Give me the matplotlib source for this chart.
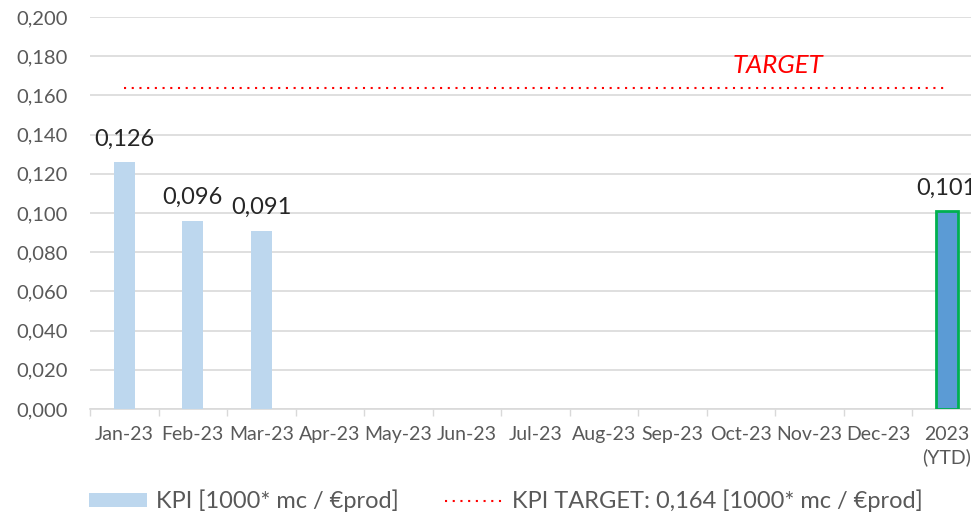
import numpy as np
import matplotlib
matplotlib.use("Agg")
import matplotlib.pyplot as plt
from matplotlib.lines import Line2D
from matplotlib.patches import Patch
from matplotlib.ticker import FuncFormatter

categories = ["Jan-23", "Feb-23", "Mar-23", "Apr-23", "May-23", "Jun-23",
              "Jul-23", "Aug-23", "Sep-23", "Oct-23", "Nov-23", "Dec-23",
              "2023\n(YTD)"]
kpi_values = [0.126, 0.096, 0.091, None, None, None, None, None, None,
              None, None, None, 0.101]
target_value = 0.164
kpi_label = "KPI [1000* mc / €prod]"
target_label = "KPI TARGET: 0,164 [1000* mc / €prod]"

plt.rcParams["font.family"] = ["Lato", "DejaVu Sans"]

grey_text = "#595959"
grid_grey = "#D9D9D9"

fig = plt.figure(figsize=(9.71, 5.14), dpi=100)
ax = fig.add_axes([90 / 971, 1 - 409 / 514, 891 / 971, 392 / 514])

x = np.arange(len(categories))
for i, v in enumerate(kpi_values):
    if v is None:
        continue
    if i == len(categories) - 1:
        ax.bar(i, v, 0.32, color="#5B9BD5", edgecolor="#00B050", linewidth=2, zorder=3)
    else:
        ax.bar(i, v, 0.31, color="#BDD7EE", zorder=3)
    ax.annotate(f"{v:.3f}".replace(".", ","), (i, v), xytext=(0, 12),
                textcoords="offset points", ha="center", va="baseline",
                fontsize=17, color="#262626")

ax.plot([x[0], x[-1]], [target_value, target_value], color="#FF0000",
        linestyle=(0, (1, 2.7)), linewidth=1.5, zorder=4)
ax.text(9.53, 0.1755, "TARGET", color="#FF0000", fontsize=18.5, style="italic",
        ha="center", va="center")

ax.set_xlim(-0.5, len(categories) - 0.5)
ax.set_ylim(0, 0.2)
ax.set_yticks(np.arange(0, 0.2001, 0.02))
ax.yaxis.set_major_formatter(FuncFormatter(lambda v, p: f"{v:.3f}".replace(".", ",")))
ax.yaxis.grid(True, color=grid_grey, linewidth=1.2, zorder=0)
ax.set_axisbelow(True)

ax.set_xticks(np.arange(-0.5, len(categories), 1))
ax.set_xticklabels([])
ax.set_xticks(x, minor=True)
ax.set_xticklabels(categories, minor=True, linespacing=1.35)
ax.tick_params(axis="x", which="major", length=5, width=1, color=grid_grey)
ax.tick_params(axis="x", which="minor", length=0, pad=12, labelsize=14, labelcolor=grey_text)
ax.tick_params(axis="y", length=0, pad=16, labelsize=14.5, labelcolor=grey_text)

for side in ["top", "right", "left"]:
    ax.spines[side].set_visible(False)
ax.spines["bottom"].set_color(grid_grey)
ax.spines["bottom"].set_linewidth(1.2)

handles = [Patch(facecolor="#BDD7EE", label=kpi_label),
           Line2D([0], [0], color="#FF0000", linestyle=(0, (1, 2.7)), linewidth=1.5,
                  label=target_label)]
fig.legend(handles=handles, loc="center left", bbox_to_anchor=(89 / 971, 1 - 501 / 514),
           ncol=2, frameon=False, fontsize=17, labelcolor=grey_text,
           handlelength=2.45, handleheight=0.56, handletextpad=0.4, columnspacing=1.95,
           borderpad=0, borderaxespad=0)

fig.savefig("out.png", dpi=100)
